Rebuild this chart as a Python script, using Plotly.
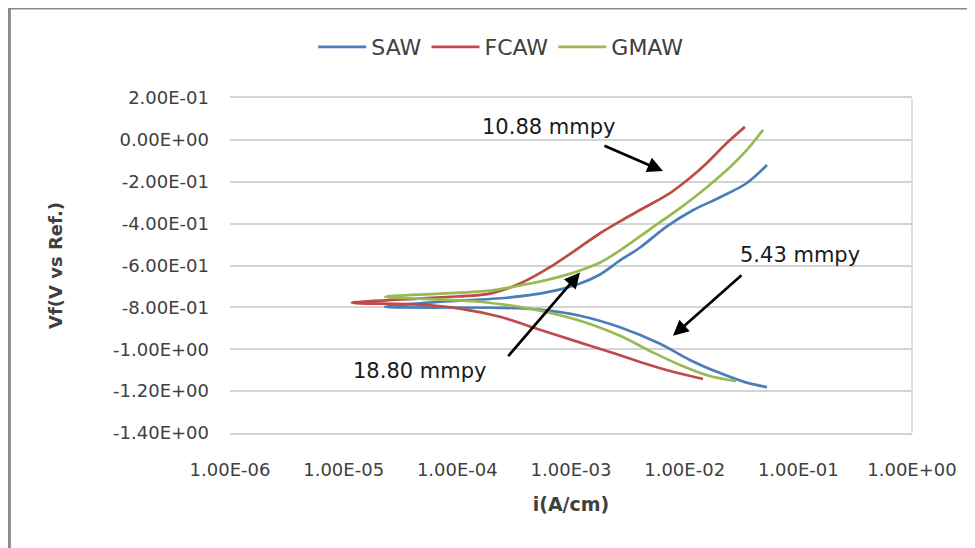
import plotly.graph_objects as go

# ---------------- data ----------------
# Each curve: cathodic branch listed from high current down to E_corr, then anodic branch up.
saw_cath_i = [5.30e-2, 3.39e-2, 2.05e-2, 1.11e-2, 6.07e-3, 2.70e-3, 1.20e-3, 5.33e-4, 2.37e-4]
saw_cath_v = [-1.181, -1.157, -1.114, -1.051, -0.974, -0.895, -0.840, -0.811, -0.802]
saw_anod_i = [2.31e-5, 7.03e-5, 2.74e-4, 6.53e-4, 1.20e-3, 1.80e-3, 2.70e-3, 4.05e-3, 6.98e-3, 1.18e-2, 2.05e-2, 3.53e-2, 5.30e-2]
saw_anod_v = [-0.797, -0.773, -0.754, -0.725, -0.686, -0.643, -0.576, -0.514, -0.413, -0.336, -0.274, -0.206, -0.120]

fcaw_cath_i = [1.45e-2, 7.43e-3, 4.05e-3, 2.20e-3, 1.08e-3, 5.33e-4, 2.37e-4, 1.05e-4, 4.69e-5]
fcaw_cath_v = [-1.142, -1.104, -1.061, -1.013, -0.960, -0.907, -0.845, -0.806, -0.787]
fcaw_anod_i = [1.18e-5, 7.03e-5, 1.94e-4, 3.56e-4, 6.53e-4, 1.20e-3, 1.80e-3, 2.70e-3, 4.48e-3, 7.43e-3, 1.11e-2, 1.57e-2, 2.36e-2, 3.39e-2]
fcaw_anod_v = [-0.778, -0.752, -0.734, -0.686, -0.608, -0.512, -0.446, -0.389, -0.322, -0.254, -0.182, -0.110, -0.014, 0.062]

gmaw_cath_i = [2.83e-2, 1.67e-2, 9.10e-3, 4.95e-3, 2.70e-3, 1.20e-3, 4.36e-4, 1.58e-4]
gmaw_cath_v = [-1.152, -1.128, -1.075, -1.008, -0.936, -0.864, -0.806, -0.773]
gmaw_anod_i = [2.31e-5, 7.03e-5, 1.94e-4, 4.36e-4, 8.00e-4, 1.20e-3, 1.80e-3, 2.70e-3, 4.95e-3, 9.10e-3, 1.57e-2, 2.51e-2, 3.53e-2, 4.89e-2]
gmaw_anod_v = [-0.749, -0.734, -0.720, -0.686, -0.653, -0.624, -0.586, -0.528, -0.427, -0.326, -0.226, -0.130, -0.048, 0.048]

series_names = ["SAW", "FCAW", "GMAW"]
series_colors = ["#4a7ebb", "#be4b48", "#98b954"]

x_tick_vals = [1e-6, 1e-5, 1e-4, 1e-3, 1e-2, 1e-1, 1e0]
x_tick_text = ["1.00E-06", "1.00E-05", "1.00E-04", "1.00E-03", "1.00E-02", "1.00E-01", "1.00E+00"]
y_tick_vals = [0.2, 0.0, -0.2, -0.4, -0.6, -0.8, -1.0, -1.2, -1.4]
y_tick_text = ["2.00E-01", "0.00E+00", "-2.00E-01", "-4.00E-01", "-6.00E-01",
               "-8.00E-01", "-1.00E+00", "-1.20E+00", "-1.40E+00"]

labels = ["10.88 mmpy", "5.43 mmpy", "18.80 mmpy"]

# ---------------- figure ----------------
FONT = "DejaVu Sans"
GRID = "#d4d4d4"
fig = go.Figure()

curves = [
    (saw_cath_i + saw_anod_i, saw_cath_v + saw_anod_v),
    (fcaw_cath_i + fcaw_anod_i, fcaw_cath_v + fcaw_anod_v),
    (gmaw_cath_i + gmaw_anod_i, gmaw_cath_v + gmaw_anod_v),
]
for (xs, ys), name, col in zip(curves, series_names, series_colors):
    fig.add_trace(go.Scatter(x=xs, y=ys, mode="lines", name=name,
                             line=dict(color=col, width=2.7, shape="spline", smoothing=0.9)))

# the page body has an 8px default margin, so margins are reduced by 8px
fig.update_layout(
    width=975, height=548,
    margin=dict(l=222, r=71, t=90, b=123),
    paper_bgcolor="white", plot_bgcolor="white",
    font=dict(family=FONT, color="#404040", size=18),
    showlegend=True,
    legend=dict(orientation="h", x=0.397, xanchor="center", y=1.152, yanchor="middle",
                font=dict(size=22, color="#404040"), itemwidth=48, bgcolor="rgba(0,0,0,0)"),
    xaxis=dict(type="log", range=[-6, 0], tickvals=x_tick_vals, ticktext=x_tick_text,
               showgrid=False, zeroline=False, showline=True, mirror=True,
               linecolor=GRID, linewidth=1.5, ticks="",
               tickfont=dict(size=18, color="#404040"), ticklabelstandoff=20,
               title=dict(text="<b>i(A/cm)</b>", font=dict(size=19, color="#404040"), standoff=18)),
    xaxis2=dict(type="log", range=[-6, 0], tickvals=x_tick_vals, overlaying="x",
                anchor="free", position=0.875, side="bottom",
                showgrid=False, zeroline=False, showline=True, linecolor="#bfbfbf", linewidth=1.5,
                ticks="outside", ticklen=6, tickwidth=1.5, tickcolor="#bfbfbf",
                showticklabels=False),
    yaxis=dict(range=[-1.4, 0.2], tickvals=y_tick_vals, ticktext=y_tick_text,
               showgrid=True, gridcolor=GRID, gridwidth=1.5, zeroline=False,
               showline=False, ticks="", tickfont=dict(size=18, color="#404040"),
               ticklabelstandoff=20,
               title=dict(text="<b>Vf(V vs Ref.)</b>", font=dict(size=18, color="#404040"), standoff=45)),
)

# plot-area right border and outer chart frame
fig.add_shape(type="line", xref="paper", yref="paper", x0=1, x1=1, y0=0, y1=1,
              line=dict(color=GRID, width=1.5))
fig.add_shape(type="line", xref="paper", yref="paper", x0=-0.3235, x1=-0.3235, y0=1.2687, y1=-0.36,
              line=dict(color="#8a8a8a", width=3))
fig.add_shape(type="line", xref="paper", yref="paper", x0=-0.3255, x1=1.1, y0=1.2687, y1=1.2687,
              line=dict(color="#8a8a8a", width=3))

# text labels (log10 x for log axis)
text_pos = [(-3.194, 0.062), (-0.985, -0.552), (-4.333, -1.104)]
for t, (xx, yy) in zip(labels, text_pos):
    fig.add_annotation(x=xx, y=yy, xref="x", yref="y", text=t, showarrow=False,
                       font=dict(family=FONT, size=21, color="#1a1a1a"))

# arrows: head in data coords, tail offset in px
arrows = [(-2.191, -0.149, -60, -26), (-2.103, -0.936, 70, -62), (-2.921, -0.634, -73, 85)]
for xx, yy, axp, ayp in arrows:
    fig.add_annotation(x=xx, y=yy, xref="x", yref="y", ax=axp, ay=ayp, text="",
                       showarrow=True, arrowhead=2, arrowsize=1.15, arrowwidth=2.7,
                       arrowcolor="black")

fig.write_html("out.html")
